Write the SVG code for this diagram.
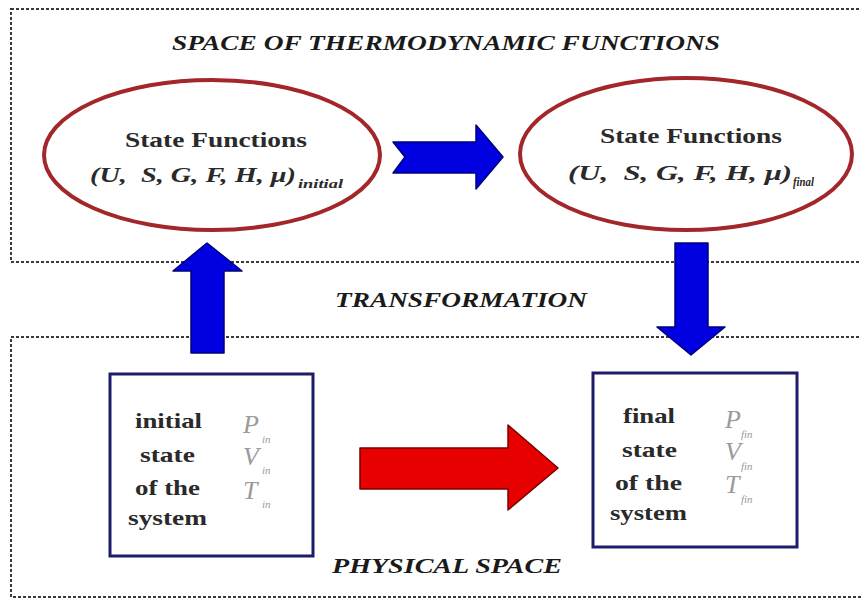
<svg xmlns="http://www.w3.org/2000/svg" width="861" height="600" viewBox="0 0 861 600">
<style>
.space{fill:none;stroke:#3a3a3a;stroke-width:2;stroke-dasharray:3 2}
.title{font-family:"Liberation Serif",serif;font-weight:bold;font-style:italic;font-size:22px;fill:#1a1a1a}
.sf{font-family:"Liberation Serif",serif;font-weight:bold;font-size:21px;fill:#2a2a2a}
.fx{font-family:"Liberation Serif",serif;font-weight:bold;font-style:italic;font-size:20px;fill:#2a2a2a;white-space:pre}
.sub{font-family:"Liberation Serif",serif;font-weight:bold;font-style:italic;font-size:12px;fill:#2a2a2a}
.ell{fill:#fff;stroke:#a3262a;stroke-width:4}
.box{fill:#fff;stroke:#1c1c6b;stroke-width:3}
.st{font-family:"Liberation Serif",serif;font-weight:bold;font-size:22px;fill:#2a2a2a}
.var{font-family:"Liberation Serif",serif;font-style:italic;font-size:26px;fill:#9a9a9a}
.vsub{font-family:"Liberation Serif",serif;font-style:italic;font-size:11px;fill:#9a9a9a}
.blue{fill:#0000e0;stroke:#00007a;stroke-width:1.5;stroke-linejoin:round}
.red{fill:#e60000;stroke:#7a0000;stroke-width:1.5;stroke-linejoin:round}
</style>
<rect width="861" height="600" fill="#fff"/>
<g id="space-thermo">
<rect class="space" x="11" y="9" width="860" height="253"/>
<text class="title" x="172" y="50" textLength="548" lengthAdjust="spacingAndGlyphs">SPACE OF THERMODYNAMIC FUNCTIONS</text>
</g>
<g id="space-physical">
<rect class="space" x="11" y="337" width="860" height="260"/>
<text class="title" x="332" y="573" textLength="230" lengthAdjust="spacingAndGlyphs">PHYSICAL SPACE</text>
</g>
<g id="label-transformation">
<text class="title" x="335" y="307" textLength="252" lengthAdjust="spacingAndGlyphs">TRANSFORMATION</text>
</g>
<g id="connectors">
<polygon class="blue" points="393,142 476,142 476,125 503,157 476,189 476,173 393,173 405,157"/>
<polygon class="blue" points="191,353 191,271 173,271 207,243 242,271 224,271 224,353"/>
<polygon class="blue" points="675,243 708,243 708,327 725,327 691,355 657,327 675,327"/>
<polygon class="red" points="360,448 508,448 508,425 558,468 508,510 508,489 360,489"/>
</g>
<g id="ellipse-initial">
<ellipse class="ell" cx="212" cy="155" rx="168" ry="75"/>
<text class="sf" x="125" y="147" textLength="182" lengthAdjust="spacingAndGlyphs">State Functions</text>
<text class="fx" x="90" y="182" textLength="206" lengthAdjust="spacingAndGlyphs">(U,  S, G, F, H, μ)</text>
<text class="sub" x="298" y="188" textLength="45" lengthAdjust="spacingAndGlyphs">initial</text>
</g>
<g id="ellipse-final">
<ellipse class="ell" cx="686" cy="154" rx="166" ry="76"/>
<text class="sf" x="600" y="143" textLength="182" lengthAdjust="spacingAndGlyphs">State Functions</text>
<text class="fx" x="568" y="180" textLength="224" lengthAdjust="spacingAndGlyphs">(U,  S, G, F, H, μ)</text>
<text class="sub" x="793" y="186" textLength="21" lengthAdjust="spacingAndGlyphs">final</text>
</g>
<g id="box-initial">
<rect class="box" x="110" y="374" width="203" height="182"/>
<text class="st" x="135" y="428" textLength="67" lengthAdjust="spacingAndGlyphs">initial</text>
<text class="st" x="140" y="462" textLength="55" lengthAdjust="spacingAndGlyphs">state</text>
<text class="st" x="135" y="495" textLength="65" lengthAdjust="spacingAndGlyphs">of the</text>
<text class="st" x="128" y="525" textLength="79" lengthAdjust="spacingAndGlyphs">system</text>
<text class="var" x="243" y="433">P</text><text class="vsub" x="262" y="443">in</text>
<text class="var" x="243" y="465">V</text><text class="vsub" x="262" y="474">in</text>
<text class="var" x="243" y="499">T</text><text class="vsub" x="262" y="508">in</text>
</g>
<g id="box-final">
<rect class="box" x="593" y="373" width="204" height="174"/>
<text class="st" x="623" y="423" textLength="52" lengthAdjust="spacingAndGlyphs">final</text>
<text class="st" x="622" y="457" textLength="55" lengthAdjust="spacingAndGlyphs">state</text>
<text class="st" x="615" y="490" textLength="67" lengthAdjust="spacingAndGlyphs">of the</text>
<text class="st" x="610" y="520" textLength="77" lengthAdjust="spacingAndGlyphs">system</text>
<text class="var" x="725" y="428">P</text><text class="vsub" x="741" y="438">fin</text>
<text class="var" x="725" y="460">V</text><text class="vsub" x="741" y="470">fin</text>
<text class="var" x="725" y="493">T</text><text class="vsub" x="741" y="503">fin</text>
</g>
</svg>
